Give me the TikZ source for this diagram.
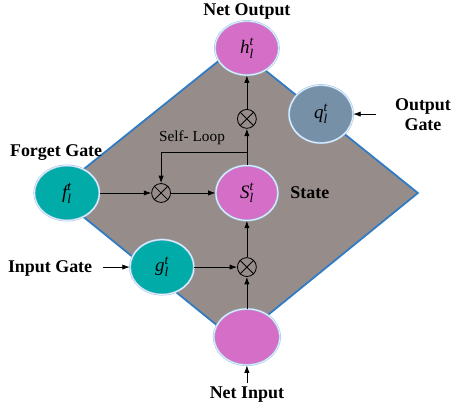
\documentclass[tikz,border=0pt]{standalone}
\usepackage{amsmath}
\usepackage{fontspec}
\setmainfont{Liberation Serif}
\usepackage{tikz}
\usetikzlibrary{shapes.geometric,arrows.meta}

\definecolor{cellpink}{HTML}{D46EC6}
\definecolor{gateteal}{HTML}{00ABA8}
\definecolor{outslate}{HTML}{7690A8}
\definecolor{bodygray}{HTML}{968D8B}
\definecolor{edgeblue}{HTML}{2F7BC4}
\definecolor{ringblue}{HTML}{A9CBEA}

\tikzset{
  unit/.style={ellipse, inner sep=0pt, draw=ringblue, line width=0.7pt,
    double=white, double distance=0.5pt, font=\fontsize{18}{20}\selectfont},
  mult/.style={circle, draw=black, line width=0.8pt, minimum size=0.63cm, inner sep=0pt},
  lbl/.style={font=\fontsize{17}{19}\selectfont\bfseries, align=center},
  flow/.style={-{Latex[length=7pt,width=5pt]}, line width=0.7pt}
}

\begin{document}
\begin{tikzpicture}
\useasboundingbox (0,0) rectangle (15.067,13.633);
% cell body
\filldraw[fill=bodygray, draw=edgeblue, line width=1.7pt]
  (7.87,12.07) -- (13.93,7.2) -- (7.87,2.27) -- (1.8,7.2) -- cycle;

% units
\node[unit, fill=cellpink, minimum width=2.13cm, minimum height=1.8cm] (h) at (8.23,12.03) {$\textit{h}_{\textit{l}}^{\textit{t}}$};
\node[unit, fill=outslate, minimum width=2.13cm, minimum height=1.93cm] (q) at (10.7,9.83) {$\textit{q}_{\textit{l}}^{\textit{t}}$};
\node[unit, fill=gateteal, minimum width=2.17cm, minimum height=1.83cm] (f) at (2.23,7.2) {$\textit{f}_{\textit{l}}^{\textit{t}}$};
\node[unit, fill=cellpink, minimum width=2.07cm, minimum height=1.83cm] (s) at (8.23,7.2) {$\textit{S}_{\textit{l}}^{\textit{t}}$};
\node[unit, fill=gateteal, minimum width=2.13cm, minimum height=1.83cm] (g) at (5.4,4.73) {$\textit{g}_{\textit{l}}^{\textit{t}}$};
\node[unit, fill=cellpink, minimum width=2.2cm, minimum height=1.87cm] (x) at (8.23,2.4) {};

% multipliers
\node[mult] (m1) at (5.37,7.2) {};
\node[mult] (m2) at (8.23,9.67) {};
\node[mult] (m3) at (8.23,4.73) {};
\foreach \m in {m1,m2,m3} {
  \draw[line width=0.8pt] (\m.north east) -- (\m.south west);
  \draw[line width=0.8pt] (\m.north west) -- (\m.south east);
}

% labels
\node[lbl] (netout) at (8.23,13.25) {Net Output};
\node[lbl] (outgate) at (14.1,9.8) {Output\\Gate};
\node[lbl] (forget) at (1.87,8.55) {Forget Gate};
\node[lbl] (state) at (10.33,7.2) {State};
\node[lbl] (ingate) at (1.67,4.7) {Input Gate};
\node[lbl] (netin) at (8.23,0.47) {Net Input};
\node[font=\fontsize{14.5}{16}\selectfont] (loop) at (6.4,9.03) {Self- Loop};

\coordinate (split) at (8.23,8.57);
\coordinate (turn) at (5.37,8.57);
\coordinate (qin) at (12.53,9.83);
\coordinate (gin) at (3.43,4.73);
\coordinate (xin) at (8.23,0.87);

% connections
\draw[flow] (f) -- (m1);
\draw[flow] (m1) -- (s);
\draw[flow] (g) -- (m3);
\draw[flow] (x) -- (m3);
\draw[flow] (m3) -- (s);
\draw[flow] (s) -- (m2);
\draw[flow] (m2) -- (h);
\draw[flow] (split) -- (turn) -- (m1);
\draw[flow] (qin) -- (q);
\draw[flow] (gin) -- (g);
\draw[flow] (xin) -- (x);
\end{tikzpicture}
\end{document}
